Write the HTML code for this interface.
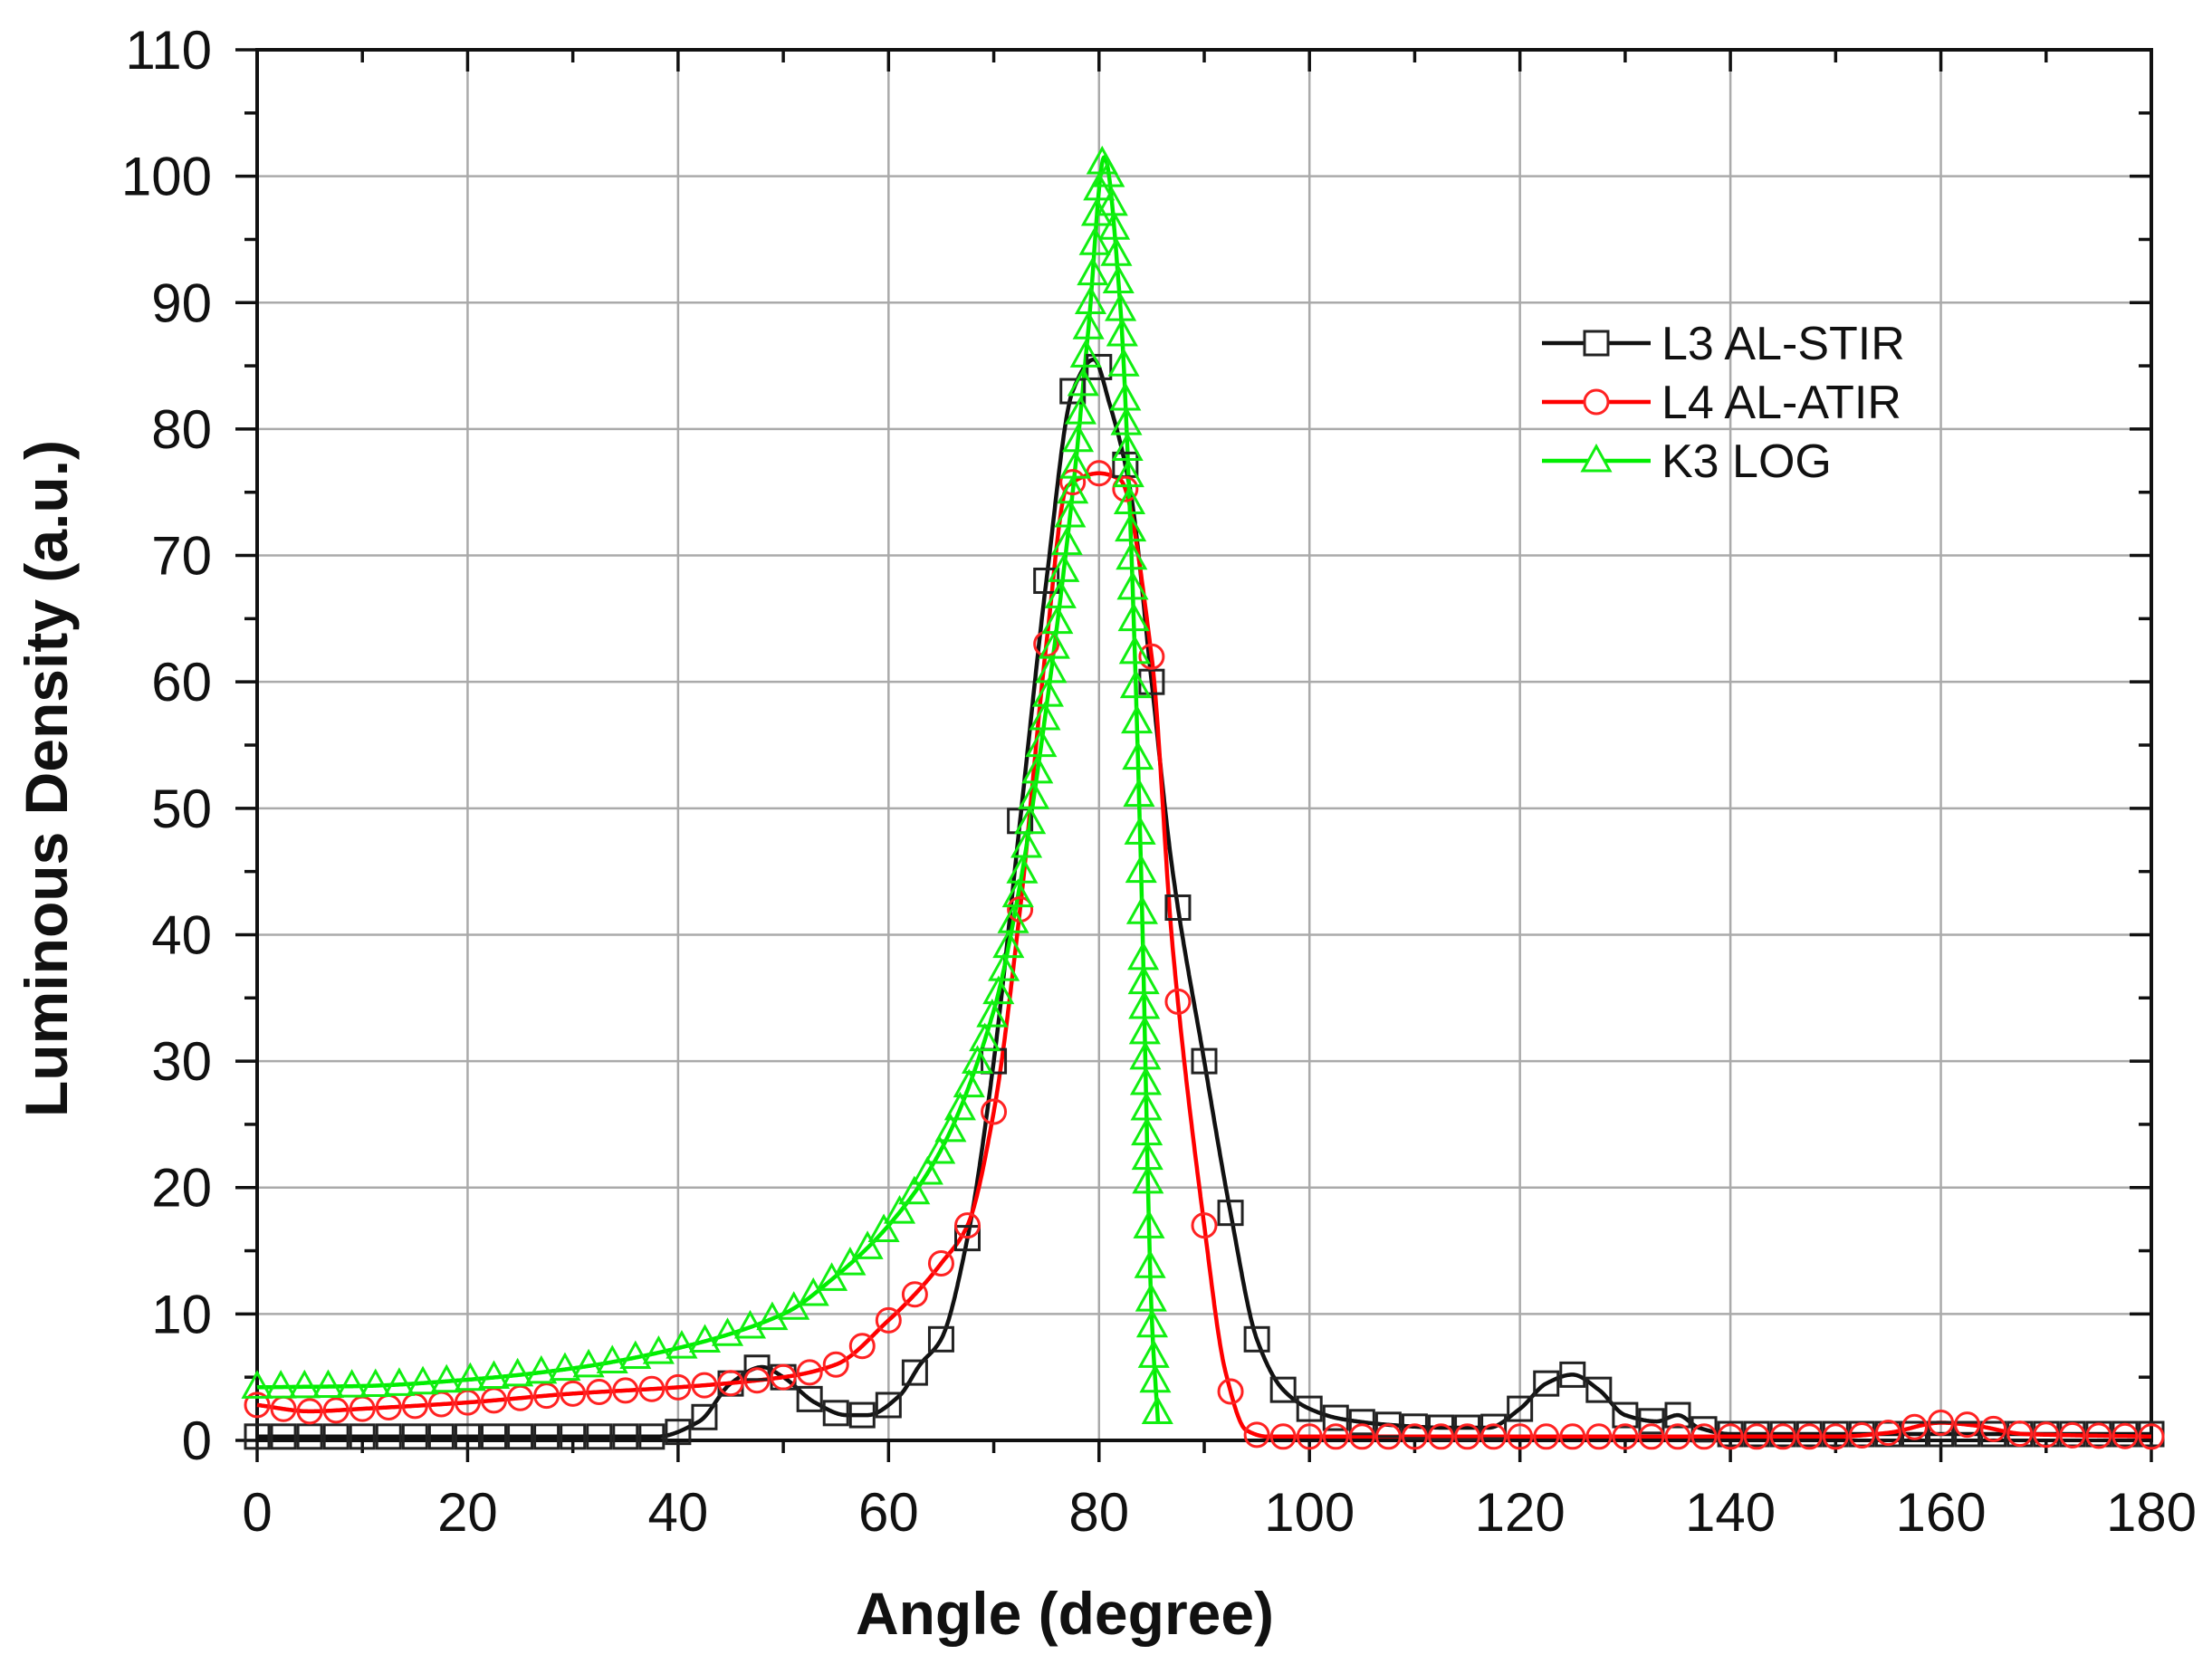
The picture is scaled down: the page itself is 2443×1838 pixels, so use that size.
<!DOCTYPE html>
<html><head><meta charset="utf-8"><style>
html,body{margin:0;padding:0;background:#fff;}
svg{display:block;}
text{font-family:"Liberation Sans",Arial,sans-serif;fill:#111;}
</style></head><body>
<svg id="s" width="2443" height="1838" viewBox="0 0 2443 1838" xmlns="http://www.w3.org/2000/svg"></svg>
<script>
const S=document.getElementById('s');
const X0=284,X1=2376,Y0=1591,Y1=55;
const px=x=>X0+(X1-X0)*x/180, py=y=>Y0-(Y0-Y1)*y/110;
let h='';
for(let x=20;x<180;x+=20)h+=`<line x1="${px(x)}" y1="${Y1}" x2="${px(x)}" y2="${Y0}" stroke="#aaa" stroke-width="2.5"/>`;
for(let y=10;y<110;y+=10)h+=`<line x1="${X0}" y1="${py(y)}" x2="${X1}" y2="${py(y)}" stroke="#aaa" stroke-width="2.5"/>`;
for(let x=0;x<=180;x+=10){const L=x%20==0?24:14;
 h+=`<line x1="${px(x)}" y1="${Y0}" x2="${px(x)}" y2="${Y0+L}" stroke="#111" stroke-width="3.5"/>`;
 h+=`<line x1="${px(x)}" y1="${Y1}" x2="${px(x)}" y2="${Y1+L}" stroke="#111" stroke-width="3.5"/>`;
 if(x%20==0)h+=`<text x="${px(x)}" y="${Y0+100}" font-size="60" text-anchor="middle">${x}</text>`;}
for(let y=0;y<=110;y+=5){const L=y%10==0?24:14;
 h+=`<line x1="${X0-L}" y1="${py(y)}" x2="${X0}" y2="${py(y)}" stroke="#111" stroke-width="3.5"/>`;
 h+=`<line x1="${X1-L}" y1="${py(y)}" x2="${X1}" y2="${py(y)}" stroke="#111" stroke-width="3.5"/>`;
 if(y%10==0)h+=`<text x="${X0-50}" y="${py(y)+21}" font-size="60" text-anchor="end">${y}</text>`;}
h+=`<rect x="${X0}" y="${Y1}" width="${X1-X0}" height="${Y0-Y1}" fill="none" stroke="#111" stroke-width="4"/>`;
h+=`<text x="1176" y="1805" font-size="66" font-weight="bold" text-anchor="middle">Angle (degree)</text>`;
h+=`<text transform="translate(74,860) rotate(-90)" font-size="66" font-weight="bold" text-anchor="middle">Luminous Density (a.u.)</text>`;
function mono(P){const n=P.length,d=[],m=[];
 for(let i=0;i<n-1;i++)d.push((P[i+1][1]-P[i][1])/(P[i+1][0]-P[i][0]));
 m[0]=d[0];m[n-1]=d[n-2];
 for(let i=1;i<n-1;i++)m[i]=d[i-1]*d[i]<=0?0:2/(1/d[i-1]+1/d[i]);
 return x=>{let i=0;while(i<n-2&&x>P[i+1][0])i++;
  const hh=P[i+1][0]-P[i][0],t=(x-P[i][0])/hh,t2=t*t,t3=t2*t;
  return (2*t3-3*t2+1)*P[i][1]+(t3-2*t2+t)*hh*m[i]+(-2*t3+3*t2)*P[i+1][1]+(t3-t2)*hh*m[i+1];};}
const B=[[0,0.3],[38,0.3],[42,1.5],[45,4.5],[48,5.8],[50,5],[53,3],[56,2],[58,2],[61,3.5],[63,6],[65,8],[67.5,16],[70,30],[72.5,49],[75,68],[77.5,83],[79.5,85.5],[81,82],[83,75],[85,60],[87,45],[90,30],[92.5,18],[95,8],[97.5,4],[100,2.5],[103,1.7],[108,1.2],[113,1],[117,1],[120,2.5],[122.5,4.5],[125,5.2],[127.5,4],[130,2],[133,1.5],[135,2],[137,1],[140,0.5],[180,0.5]];
const R=[[0,2.8],[5,2.3],[10,2.5],[20,3],[30,3.7],[40,4.2],[50,5],[55,6],[60,9.5],[63,12],[65,14],[67.5,17],[70,26],[72.5,42],[75,63],[77,75.5],[80,76.5],[82,76],[85,62],[87,39],[90,17],[92,5.5],[94,0.8],[96,0.3],[150,0.3],[155,0.6],[160,1.4],[163,1.2],[168,0.5],[180,0.3]];
const G=[[0,4.2],[10,4.3],[20,4.8],[30,5.7],[40,7.3],[50,10],[55,13],[60,17],[65,23],[70,34],[72.5,44],[75,58],[77.5,75],[79,88],[80.5,101.5],[82,90],[83,72],[84,45],[85,10],[85.6,1.5]];
function curve(P,col,xe){const f=mono(P);let d='',pts=[];
 for(let x=P[0][0];x<=xe+1e-9;x+=0.05){const X=px(x),Y=py(f(x));pts.push([X,Y]);d+=(d?'L':'M')+X.toFixed(1)+' '+Y.toFixed(1);}
 h+=`<path d="${d}" fill="none" stroke="${col}" stroke-width="4.5"/>`;return [f,pts];}
const [fb]=curve(B,'#111',180);
const [fr]=curve(R,'#f00',180);
const [fg,gp]=curve(G,'#0e0',85.6);
for(let x=0;x<=180;x+=2.5){const X=px(x),Y=py(fb(x));h+=`<rect x="${X-13}" y="${Y-13}" width="26" height="26" fill="none" stroke="#222" stroke-width="3"/>`;}
for(let x=0;x<=180;x+=2.5){const X=px(x),Y=py(fr(x));h+=`<circle cx="${X}" cy="${Y}" r="13" fill="none" stroke="#f22" stroke-width="3"/>`;}
let acc=1e9,prev=gp[0];
for(const p of gp){acc+=Math.hypot(p[0]-prev[0],p[1]-prev[1]);prev=p;
 if(acc>=26){acc=0;const X=p[0],Y=p[1];h+=`<polygon points="${X},${Y-16} ${X-15},${Y+11} ${X+15},${Y+11}" fill="none" stroke="#1e1" stroke-width="3"/>`;}}
const L=[['#111','L3 AL-STIR','s'],['#f00','L4 AL-ATIR','c'],['#0e0','K3 LOG','t']];
L.forEach((l,i)=>{const y=379+i*65,cx=1763;
 h+=`<line x1="1703" y1="${y}" x2="1823" y2="${y}" stroke="${l[0]}" stroke-width="4.5"/>`;
 if(l[2]=='s')h+=`<rect x="${cx-13}" y="${y-13}" width="26" height="26" fill="#fff" stroke="#222" stroke-width="3"/>`;
 if(l[2]=='c')h+=`<circle cx="${cx}" cy="${y}" r="13" fill="#fff" stroke="#f22" stroke-width="3"/>`;
 if(l[2]=='t')h+=`<polygon points="${cx},${y-16} ${cx-15},${y+11} ${cx+15},${y+11}" fill="#fff" stroke="#1e1" stroke-width="3"/>`;
 h+=`<text x="1835" y="${y+18}" font-size="52">${l[1]}</text>`;});
S.innerHTML=h;
</script>
</body></html>
